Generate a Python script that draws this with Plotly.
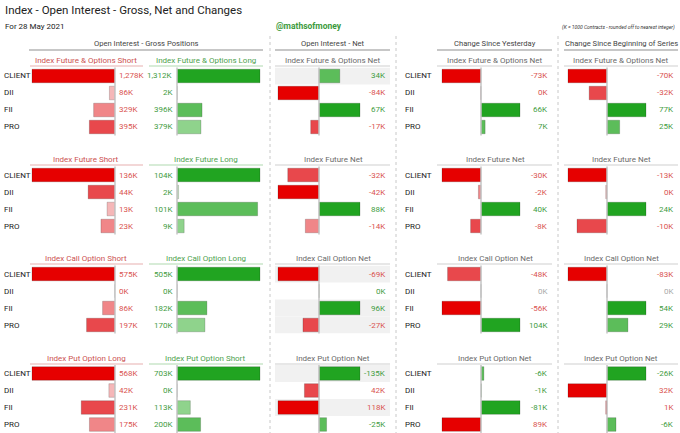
import plotly.graph_objects as go

W, H = 680, 433
FONT = "Roboto, Liberation Sans, sans-serif"

# ---------------- data ----------------
participants = ["CLIENT", "DII", "FII", "PRO"]

short_titles = ["Index Future & Options Short", "Index Future Short",
                "Index Call Option Short", "Index Put Option Long"]
long_titles = ["Index Future & Options Long", "Index Future Long",
               "Index Call Option Long", "Index Put Option Short"]
net_titles = ["Index Future & Options Net", "Index Future Net",
              "Index Call Option Net", "Index Put Option Net"]

fo_short = [1278, 86, 329, 395]
fo_long = [1312, 2, 396, 379]
fut_short = [136, 44, 13, 23]
fut_long = [104, 2, 101, 9]
call_short = [575, 0, 86, 197]
call_long = [505, 0, 182, 170]
put_long = [568, 42, 231, 175]
put_short = [703, 0, 113, 200]

fo_net = [34, -84, 67, -17]
fut_net = [-32, -42, 88, -14]
call_net = [-69, 0.3, 96, -27]
put_net = [-135, 42, 118, -25]

fo_chg_day = [-73, -0.3, 66, 7]
fut_chg_day = [-30, -2, 40, -8]
call_chg_day = [-48, 0, -56, 104]
put_chg_day = [-6, -1, -81, 89]

fo_chg_series = [-70, -32, 77, 25]
fut_chg_series = [-13, -0.4, 24, -10]
call_chg_series = [-83, 0, 54, 29]
put_chg_series = [-26, 32, 1, -6]

gross_short = [fo_short, fut_short, call_short, put_long]
gross_long = [fo_long, fut_long, call_long, put_short]
net_all = [fo_net, fut_net, call_net, put_net]
day_all = [fo_chg_day, fut_chg_day, call_chg_day, put_chg_day]
series_all = [fo_chg_series, fut_chg_series, call_chg_series, put_chg_series]

# put positions are read with inverted sign (long puts are bearish)
bar_direction = [1, 1, 1, -1]
gray_rows = [["CLIENT"], [], ["CLIENT", "FII", "PRO"], ["CLIENT", "FII"]]

# ---------------- style ----------------
RED = ["#e60000", "#e8484c", "#f08688", "#f5b7b8"]
GREEN = ["#21a421", "#5cbd5a", "#8fd38c", "#c4e9c1"]
RED_TXT = "#d9534f"
GREEN_TXT = "#3f9c3f"
ZERO_TXT = "#aaaaaa"

row_top = [76, 175, 274, 374]
ROW = 17
VAL_SIZE = 8
ROWLAB_SIZE = 8
TITLE_SIZE = 8
HEAD_SIZE = 7.6


def X(px):
    return min(1.0, max(0.0, px / W))


def Y(py):
    return min(1.0, max(0.0, 1 - py / H))


def rank_colors(vals, palette):
    order = sorted(range(len(vals)), key=lambda i: -abs(vals[i]))
    cols = [palette[0]] * len(vals)
    for r, i in enumerate(order):
        cols[i] = palette[r]
    return cols


def signed_colors(d):
    cols = [GREEN[0]] * len(d)
    neg = sorted([i for i in range(len(d)) if d[i] < 0], key=lambda i: d[i])
    pos = sorted([i for i in range(len(d)) if d[i] >= 0], key=lambda i: -d[i])
    for r, i in enumerate(neg):
        cols[i] = RED[r]
    for r, i in enumerate(pos):
        cols[i] = GREEN[r]
    return cols


def fmt(v):
    return f"{int(round(v)):,}K"


def txt_color(d):
    if d > 0:
        return GREEN_TXT
    if d < 0:
        return RED_TXT
    return ZERO_TXT


fig = go.Figure()
layout = {}
annotations = []
shapes = []

# columns: (x0 px, x1 px[, zero px, px per unit])
COLS = {
    "short": (30, 115),
    "long": (177, 262),
    "net": (275, 390, 319, 41),
    "day": (437, 552, 481, 39),
    "series": (564, 678, 607, 39),
}


def ann(x, y, text, size=8, color="#222", xanchor="center", yref="paper", **kw):
    annotations.append(dict(x=x, y=y, xref="paper", yref=yref, text=text,
                            showarrow=False, xanchor=xanchor, yanchor="middle",
                            font=dict(family=FONT, size=size, color=color), **kw))


def hline(x0, x1, ypx, color, width=1.2):
    shapes.append(dict(type="line", xref="paper", yref="paper", x0=X(x0), x1=X(x1),
                       y0=Y(ypx), y1=Y(ypx), line=dict(color=color, width=width)))


k = 0
for p in range(4):
    top = row_top[p]
    y_lo = top + 3 * ROW + 8.5
    y_hi = top - 8.5
    if y_lo > H:
        shift = y_lo - H
        y_lo -= shift
        y_hi -= shift
    ydom = [Y(y_lo), Y(y_hi)]
    dirn = bar_direction[p]
    col_specs = []

    vals = gross_short[p]
    col_specs.append(("short", vals, rank_colors(vals, RED)))
    vals = gross_long[p]
    col_specs.append(("long", vals, rank_colors(vals, GREEN)))
    for name, series in (("net", net_all[p]), ("day", day_all[p]), ("series", series_all[p])):
        d = [dirn * v for v in series]
        col_specs.append((name, series, signed_colors(d)))

    for name, vals, colors in col_specs:
        k += 1
        xa = "x" if k == 1 else f"x{k}"
        ya = "y" if k == 1 else f"y{k}"
        xkey = "xaxis" if k == 1 else f"xaxis{k}"
        ykey = "yaxis" if k == 1 else f"yaxis{k}"
        spec = COLS[name]
        x0, x1 = spec[0], spec[1]
        layout[ykey] = dict(domain=ydom, type="category", categoryorder="array",
                            categoryarray=participants, range=[3.5, -0.5],
                            visible=False, fixedrange=True, anchor=xa)
        if name in ("short", "long"):
            mx = max(vals)
            rng = [0, mx * (x1 - x0) / 83.0]
            if name == "short":
                rng = rng[::-1]
            layout[xkey] = dict(domain=[X(x0), X(x1)], range=rng, visible=False,
                                fixedrange=True, anchor=ya)
            xs = vals
            zero_px = x1 if name == "short" else x0
        else:
            zero_px, unit = spec[2], spec[3]
            layout[xkey] = dict(domain=[X(x0), X(x1)],
                                range=[-(zero_px - x0) / unit, (x1 - zero_px) / unit],
                                visible=False, fixedrange=True, anchor=ya)
            d = [dirn * v for v in vals]
            negmax = max([-v for v in d if v < 0] or [1])
            posmax = max([v for v in d if v > 0] or [1])
            xs = [v / negmax if v < 0 else v / posmax for v in d]

        if name == "net":
            for r in gray_rows[p]:
                i = participants.index(r)
                shapes.append(dict(type="rect", xref=f"{xa} domain", yref=ya,
                                   x0=0, x1=1, y0=i - 0.5, y1=i + 0.5,
                                   fillcolor="#f1f1f1", line=dict(width=0), layer="below"))

        fig.add_trace(go.Bar(
            x=xs, y=participants, orientation="h", xaxis=xa, yaxis=ya,
            marker=dict(color=colors, line=dict(color="rgba(0,0,0,0.22)", width=0.8)),
            width=0.8, hoverinfo="skip", showlegend=False,
        ))

        shapes.append(dict(type="line", xref="paper", yref=f"{ya} domain",
                           x0=X(zero_px), x1=X(zero_px), y0=0, y1=1,
                           line=dict(color="#c4c4c4", width=1.5)))

        for i, part in enumerate(participants):
            v = vals[i]
            if name == "short":
                lx, anchor, col = 117, "left", RED_TXT
            elif name == "long":
                lx, anchor, col = 175, "right", GREEN_TXT
            else:
                lx, anchor, col = x1 - 2, "right", txt_color(dirn * v)
            annotations.append(dict(x=X(lx), y=part, xref="paper", yref=ya,
                                    text=fmt(v), showarrow=False, xanchor=anchor,
                                    yanchor="middle",
                                    font=dict(family=FONT, size=VAL_SIZE, color=col)))
        if name in ("short", "day"):
            lx = 2 if name == "short" else 403
            for part in participants:
                annotations.append(dict(x=X(lx), y=part, xref="paper", yref=ya,
                                        text=part, showarrow=False, xanchor="left",
                                        yanchor="middle",
                                        font=dict(family=FONT, size=ROWLAB_SIZE,
                                                  color="#222")))

    ty, uy = top - 16, top - 10
    ann(X(86), Y(ty), short_titles[p], size=TITLE_SIZE, color="#cc5252")
    hline(30, 143, uy, "#e8b0b0")
    ann(X(206), Y(ty), long_titles[p], size=TITLE_SIZE, color="#4ea24e")
    hline(149, 263, uy, "#b0dab0")
    for cx, a, b in ((333, 275, 390), (495, 437, 552), (621, 564, 678)):
        ann(X(cx), Y(ty), net_titles[p], size=TITLE_SIZE, color="#6a6a6a")
        hline(a, b, uy, "#cfcfcf")

for cx, a, b, t in ((146, 29, 263, "Open Interest - Gross Positions"),
                    (333, 275, 390, "Open Interest - Net"),
                    (495, 437, 552, "Change Since Yesterday"),
                    (621, 564, 678, "Change Since Beginning of Series")):
    ann(X(cx), Y(43), t, size=HEAD_SIZE, color="#444")
    hline(a, b, 50, "#b5b5b5", 1.4)

for xs_ in (270, 396, 558):
    shapes.append(dict(type="line", xref="paper", yref="paper", x0=X(xs_), x1=X(xs_),
                       y0=Y(36), y1=0, line=dict(color="#c8c8c8", width=1, dash="dot")))

ann(X(3), Y(10), "Index - Open Interest - Gross, Net and Changes", size=11.5,
    color="#222", xanchor="left")
ann(X(3), Y(26), "For 28 May 2021", size=8, color="#222", xanchor="left")
ann(X(309), Y(26), "<b>@mathsofmoney</b>", size=8.5, color="#3c9a3c")
ann(X(677), Y(27), "<i>(K = 1000 Contracts - rounded off to nearest integer)</i>",
    size=5, color="#333", xanchor="right")

fig.update_layout(
    width=W, height=H, margin=dict(l=0, r=0, t=0, b=0),
    paper_bgcolor="white", plot_bgcolor="rgba(0,0,0,0)",
    barmode="overlay", annotations=annotations, shapes=shapes,
    font=dict(family=FONT), **layout,
)

fig.write_html("out.html", config={"displayModeBar": False},
               post_script="document.body.style.margin='0';"
                           "document.body.style.overflow='hidden';")
